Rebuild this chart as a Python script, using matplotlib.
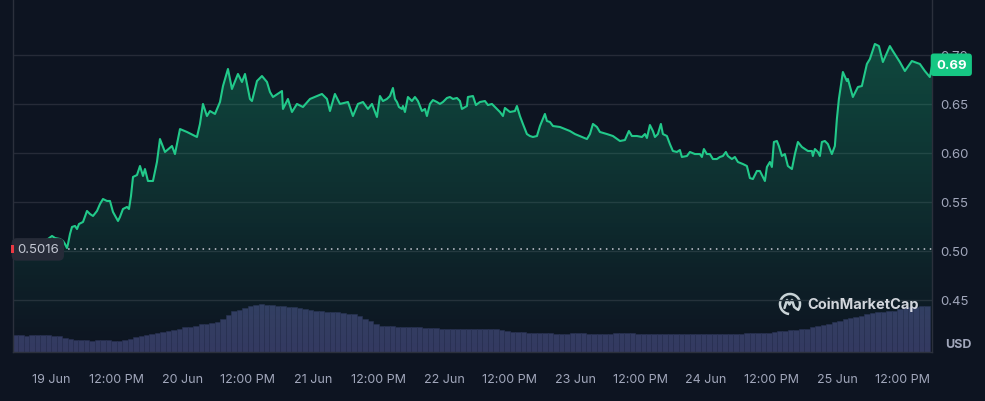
import numpy as np
import matplotlib
matplotlib.use("Agg")
import matplotlib.pyplot as plt
from matplotlib.colors import LinearSegmentedColormap
from matplotlib.patches import Polygon, Arc, Rectangle

plt.rcParams['font.family'] = ['Inter', 'DejaVu Sans']

# ---------------- data ----------------
# hours since 18 Jun 17:00
hours = [0, 1.28, 3.11, 4.95, 6.41, 7.15, 7.70, 8.61, 9.16, 9.53, 9.89, 10.08, 10.44, 10.81, 11.36, 11.73,
         12.09, 12.83, 13.56, 14.11, 14.66, 15.39, 15.94, 16.49, 17.22, 17.77, 18.32, 19.24, 19.60, 20.15,
         20.89, 21.25, 21.62, 21.99, 22.72, 23.27, 23.82, 24.18, 24.73, 25.65, 26.38, 26.93, 27.85, 29.13,
         29.68, 30.60, 31.88, 33.71, 34.26, 34.81, 35.54, 36.09, 37.01, 37.93, 38.48, 39.39, 40.12, 41.22,
         41.96, 42.51, 43.42, 43.79, 44.71, 45.62, 46.54, 47.09, 47.64, 49.29, 49.47, 50.38, 51.12, 52.03,
         53.13, 54.42, 55.70, 56.61, 57.53, 58.08, 58.99, 59.91, 61.38, 62.29, 63.21, 64.13, 65.04, 65.78,
         66.69, 67.24, 67.79, 68.52, 69.07, 69.62, 69.99, 70.36, 70.72, 71.27, 71.45, 71.82, 72.37, 73.10,
         73.65, 74.20, 74.94, 75.49, 75.85, 76.40, 76.95, 77.68, 78.23, 78.78, 79.52, 80.07, 80.62, 81.35,
         81.90, 82.26, 83.18, 83.36, 84.28, 84.83, 85.56, 86.48, 87.03, 87.76, 88.68, 89.23, 89.78, 90.14,
         91.06, 91.97, 92.34, 92.89, 93.44, 94.17, 94.72, 95.27, 96.01, 96.56, 97.47, 97.84, 98.39, 98.94,
         100.22, 101.14, 102.05, 102.97, 104.25, 105.17, 105.72, 106.27, 107.00, 107.55, 108.83, 109.93,
         111.22, 112.13, 112.86, 113.41, 114.33, 115.25, 115.80, 116.16, 116.71, 117.26, 117.63, 118.17,
         118.72, 119.09, 119.82, 120.37, 120.92, 121.66, 122.20, 122.57, 123.49, 124.04, 124.95, 125.87,
         126.24, 126.60, 127.15, 127.70, 128.25, 128.98, 129.53, 130.08, 130.63, 131.00, 131.73, 132.28,
         132.83, 133.75, 134.48, 135.03, 135.58, 136.31, 136.86, 137.41, 137.78, 138.15, 138.70, 139.06,
         139.43, 139.98, 140.34, 140.89, 141.44, 141.99, 142.73, 143.28, 143.83, 144.56, 145.11, 145.66,
         146.39, 146.57, 146.94, 147.49, 147.86, 148.22, 148.77, 149.32, 150.05, 150.60, 150.97, 151.34,
         152.07, 152.80, 152.99, 153.90, 154.82, 155.55, 156.47, 157.02, 157.93, 158.67, 159.40, 160.68,
         161.23, 162.51, 163.43, 164.71, 166.18, 167.09, 168.0, 168.4]

price = [0.5016, 0.5030, 0.5051, 0.5082, 0.5122, 0.5153, 0.5132, 0.5122, 0.5102, 0.5071, 0.5030, 0.5071,
         0.5173, 0.5245, 0.5255, 0.5224, 0.5275, 0.5296, 0.5408, 0.5377, 0.5357, 0.5408, 0.5479, 0.5530,
         0.5510, 0.5510, 0.5398, 0.5306, 0.5347, 0.5428, 0.5449, 0.5428, 0.5561, 0.5755, 0.5775, 0.5867,
         0.5765, 0.5836, 0.5714, 0.5714, 0.5908, 0.6142, 0.6010, 0.6071, 0.5989, 0.6244, 0.6214, 0.6163,
         0.6296, 0.6500, 0.6377, 0.6428, 0.6398, 0.6520, 0.6683, 0.6857, 0.6653, 0.6806, 0.6724, 0.6806,
         0.6551, 0.6530, 0.6734, 0.6785, 0.6724, 0.6622, 0.6571, 0.6632, 0.6449, 0.6551, 0.6418, 0.6500,
         0.6469, 0.6551, 0.6581, 0.6602, 0.6551, 0.6428, 0.6602, 0.6500, 0.6520, 0.6377, 0.6500, 0.6520,
         0.6449, 0.6500, 0.6367, 0.6581, 0.6530, 0.6551, 0.6581, 0.6663, 0.6551, 0.6520, 0.6469, 0.6449,
         0.6479, 0.6418, 0.6571, 0.6530, 0.6571, 0.6530, 0.6428, 0.6449, 0.6377, 0.6500, 0.6540, 0.6520,
         0.6500, 0.6520, 0.6561, 0.6571, 0.6551, 0.6561, 0.6530, 0.6449, 0.6479, 0.6571, 0.6581, 0.6489,
         0.6520, 0.6530, 0.6489, 0.6500, 0.6449, 0.6418, 0.6377, 0.6459, 0.6418, 0.6428, 0.6479, 0.6377,
         0.6296, 0.6193, 0.6173, 0.6163, 0.6173, 0.6275, 0.6398, 0.6326, 0.6316, 0.6275, 0.6265, 0.6244,
         0.6224, 0.6193, 0.6163, 0.6142, 0.6193, 0.6296, 0.6265, 0.6214, 0.6193, 0.6173, 0.6122, 0.6132,
         0.6224, 0.6173, 0.6173, 0.6163, 0.6193, 0.6153, 0.6285, 0.6224, 0.6163, 0.6193, 0.6296, 0.6193,
         0.6173, 0.6091, 0.6020, 0.6010, 0.6030, 0.5959, 0.5969, 0.6010, 0.5989, 0.5989, 0.5959, 0.6040,
         0.5989, 0.5989, 0.5938, 0.5938, 0.5959, 0.5969, 0.6010, 0.5969, 0.5938, 0.5959, 0.5908, 0.5887,
         0.5867, 0.5744, 0.5734, 0.5816, 0.5816, 0.5755, 0.5714, 0.5857, 0.5908, 0.5857, 0.6112, 0.6122,
         0.6071, 0.5969, 0.5989, 0.5867, 0.5836, 0.5989, 0.6112, 0.6061, 0.6040, 0.6020, 0.6020, 0.5969,
         0.6040, 0.6010, 0.5969, 0.6112, 0.6122, 0.6091, 0.5989, 0.6071, 0.6347, 0.6551, 0.6826, 0.6734,
         0.6755, 0.6571, 0.6673, 0.6683, 0.6908, 0.6959, 0.7112, 0.7091, 0.6928, 0.7091, 0.7040, 0.6928,
         0.6836, 0.6938, 0.6908, 0.6836, 0.6775, 0.6887]

# hourly volume (relative units)
volume = [17, 17, 16, 17, 17, 17, 17, 16, 16,
          14, 13,
          12, 12, 12, 11, 12, 12, 12, 11, 11, 12,
          13, 15,
          16, 17, 18, 19,
          20, 21, 22, 23,
          25, 25, 26,
          28, 28, 29, 30,
          33, 37,
          41, 42, 44,
          46, 47, 48,
          47, 47, 46, 46, 45, 45,
          44, 43, 42,
          41, 41, 40, 40, 40,
          39, 38, 38,
          36, 33, 31,
          28,
          26, 26, 26, 25, 25, 25, 25,
          25, 24, 24, 24, 23, 23, 23,
          23, 23, 23, 23, 23, 23, 23, 23, 22, 21,
          20, 20, 20, 19, 19, 19, 19, 19, 18, 18, 18, 19, 19, 19, 18, 18,
          18, 18, 18, 19, 19, 19, 19, 18, 18, 18, 18, 18, 18, 18, 18, 18,
          18, 18, 18, 18, 18, 18, 18, 18, 18, 18, 18, 19, 19, 19, 19, 19,
          20, 21, 21, 22, 22, 23, 23,
          25, 26, 27, 28, 30, 31,
          33, 34, 35, 36,
          38, 39, 40, 40, 41, 41,
          43, 44, 45, 45, 46, 46]

tick_hours = [7, 19, 31, 43, 55, 67, 79, 91, 103, 115, 127, 139, 151, 163]
tick_labels = ['19 Jun', '12:00 PM', '20 Jun', '12:00 PM', '21 Jun', '12:00 PM', '22 Jun',
               '12:00 PM', '23 Jun', '12:00 PM', '24 Jun', '12:00 PM', '25 Jun', '12:00 PM']
price_ticks = [0.45, 0.50, 0.55, 0.60, 0.65, 0.70]
open_price = 0.5016
last_price = 0.69

# ---------------- style ----------------
BG = '#0d1421'
GREEN = '#22c98a'
LABEL_GREEN = '#16c784'
GRID = '#262b38'
TXT = '#a1a7bb'

fig = plt.figure(figsize=(9.85, 4.02), dpi=100, facecolor=BG)
ax_vol = fig.add_axes([13/985, 1-353/402, 919/985, 353/402])
ax = fig.add_axes([13/985, 1-353/402, 919/985, 353/402], sharex=ax_vol)
ax.set_zorder(ax_vol.get_zorder() + 1)
ax.patch.set_visible(False)
ax_vol.set_facecolor(BG)

x0, x1 = 0, max(hours)
ylo, yhi = 0.3969, 0.7571

# volume bars
vh = np.arange(len(volume)) + 0.5
ax_vol.bar(vh, volume, width=1.0, color='#343a61', edgecolor='#2a2f52', linewidth=0.4)
ax_vol.set_ylim(0, max(volume) / 0.136)
ax_vol.set_xlim(x0, x1)
ax_vol.set_yticks([])
for s in ax_vol.spines.values():
    s.set_visible(False)
ax_vol.tick_params(axis='x', length=0, labelbottom=False)

# price axes
ax.set_xlim(x0, x1)
ax.set_ylim(ylo, yhi)
for yv in price_ticks:
    ax.axhline(yv, color=GRID, lw=1, zorder=0)

# gradient fill under line
t = np.array(hours)
p = np.array(price)
verts = np.vstack([np.column_stack([t, p]), [[t[-1], ylo], [t[0], ylo]]])
poly = Polygon(verts, closed=True, facecolor='none', edgecolor='none')
ax.add_patch(poly)
cmap = LinearSegmentedColormap.from_list('g', [(0.086, 0.78, 0.52, 0.0), (0.086, 0.78, 0.52, 0.30)])
grad = np.linspace(0, 1, 256).reshape(-1, 1)
im = ax.imshow(grad, extent=[x0, x1, ylo, max(price)], origin='lower', aspect='auto', cmap=cmap, zorder=1)
im.set_clip_path(poly)

ax.plot(t, p, color=GREEN, lw=1.5, zorder=3, solid_joinstyle='round')

# open price dotted line + label
ax.axhline(open_price, xmin=(62-13)/919, xmax=1, color='#c9ccd6', lw=1.1, ls=(0, (1, 3)), zorder=2)
ax.text(0.027, open_price, '0.5016', transform=ax.get_yaxis_transform(), ha='center', va='center',
        fontsize=9.5, color='#c3c7d2', zorder=5,
        bbox=dict(boxstyle='round,pad=0.4,rounding_size=0.4', facecolor='#262b38', edgecolor='none'))
ax.add_patch(Rectangle((-0.002, open_price - 0.004), 0.003, 0.008, transform=ax.get_yaxis_transform(),
                       facecolor='#ea3943', edgecolor='none', clip_on=False, zorder=6))

# spines
ax.spines['top'].set_visible(False)
for side in ['left', 'right', 'bottom']:
    ax.spines[side].set_color('#2b303c')
    ax.spines[side].set_linewidth(1)

# ticks
ax.yaxis.tick_right()
ax.set_yticks(price_ticks)
ax.set_yticklabels([f'{v:.2f}' for v in price_ticks])
ax.tick_params(axis='y', length=0, pad=6, labelsize=9.5, labelcolor=TXT)
ax.set_xticks(tick_hours)
ax.set_xticklabels(tick_labels)
ax.tick_params(axis='x', length=0, pad=15, labelsize=9, labelcolor=TXT)

# last price label (covers most of the 0.70 tick label, as in the original)
ax.text(1.0 + 4/919, last_price, f'{last_price:.2f}', transform=ax.get_yaxis_transform(), ha='left',
        va='center', fontsize=9.5, fontweight='bold', color='white', zorder=6, clip_on=False,
        bbox=dict(boxstyle='round,pad=0.4,rounding_size=0.25', facecolor=LABEL_GREEN, edgecolor='none'))

fig.text(958/985, 1-345/402, 'USD', ha='center', va='center', fontsize=9, fontweight='bold', color=TXT)

# watermark
fig.text(807/985, 1-305/402, 'CoinMarketCap', ha='left', va='center', fontsize=10.5, fontweight='bold',
         color='#e8eaf0', alpha=0.9)
lax = fig.add_axes([778/985, 1-317/402, 24/985, 24/402])
lax.set_xlim(-1.2, 1.2)
lax.set_ylim(-1.2, 1.2)
lax.set_aspect('equal')
lax.axis('off')
lax.add_patch(Arc((0, 0), 2.0, 2.0, theta1=-40, theta2=265, color='#e8eaf0', lw=1.8, alpha=0.9))
lax.plot([-0.55, -0.3, -0.05, 0.2, 0.42, 0.75], [-0.4, 0.4, -0.05, 0.4, -0.3, -0.55], color='#e8eaf0',
         lw=1.8, alpha=0.9, solid_joinstyle='round', solid_capstyle='round')

fig.savefig('out.png', dpi=100, facecolor=BG)
